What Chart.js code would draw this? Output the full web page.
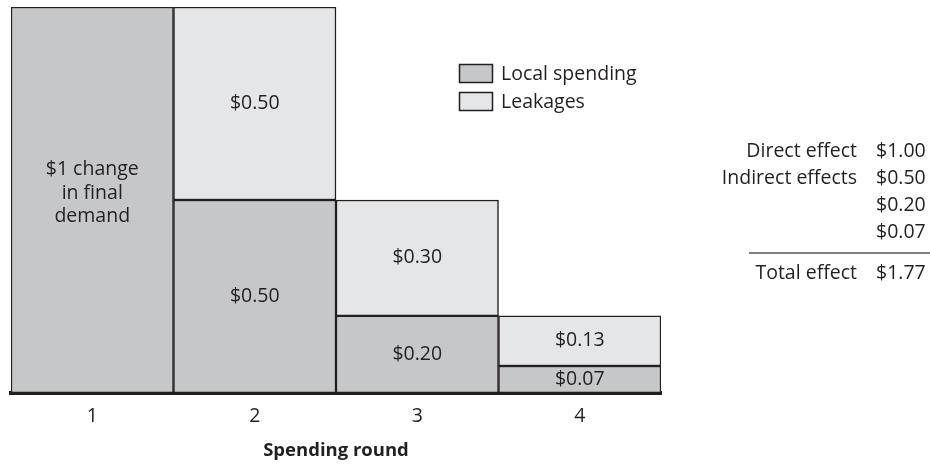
<!DOCTYPE html>
<html>
<head>
<meta charset="utf-8">
<script src="https://cdn.jsdelivr.net/npm/chart.js@4.4.1/dist/chart.umd.min.js"></script>
<style>
 html, body { margin: 0; padding: 0; background: #fff; }
 canvas { display: block; }
</style>
</head>
<body>
<canvas id="multiplier" width="930" height="464"></canvas>
<script>
// spending rounds and the two stacked parts of each round
var rounds = ['1', '2', '3', '4'];
var localSpending = [1.00, 0.50, 0.20, 0.07];
var leakages = [null, 0.50, 0.30, 0.13];

// text written inside the bars
var localLabels = [['$1 change', 'in final', 'demand'], ['$0.50'], ['$0.20'], ['$0.07']];
var leakLabels = [null, ['$0.50'], ['$0.30'], ['$0.13']];

// summary table on the right
var effectNames = ['Direct effect', 'Indirect effects', '', ''];
var effectValues = ['$1.00', '$0.50', '$0.20', '$0.07'];
var totalName = 'Total effect';
var totalValue = '$1.77';

var FONT = '"Open Sans", "Noto Sans", sans-serif';
var INK = '#231f20';
var TEXT = '#231f20';
var SIZE = 19.5;

var barText = {
 id: 'barText',
 afterDatasetsDraw: function(chart) {
  var ctx = chart.ctx;
  var sets = [localLabels, leakLabels];
  ctx.save();
  ctx.font = SIZE + 'px ' + FONT;
  ctx.fillStyle = TEXT;
  ctx.textAlign = 'center';
  ctx.textBaseline = 'middle';
  sets.forEach(function(labels, di) {
   var meta = chart.getDatasetMeta(di);
   meta.data.forEach(function(bar, i) {
    var lines = labels[i];
    if (!lines) return;
    var p = bar.getProps(['x', 'y', 'base'], true);
    var cy = (p.y + p.base) / 2;
    var lh = 23.5;
    if (lines.length > 1) cy -= 7;
    var y0 = cy - (lines.length - 1) * lh / 2;
    lines.forEach(function(t, k) {
     ctx.fillText(t, p.x, y0 + k * lh);
    });
   });
  });
  ctx.restore();
 }
};

var sideLegend = {
 id: 'sideLegend',
 afterDraw: function(chart) {
  var ctx = chart.ctx;
  ctx.save();
  ctx.font = SIZE + 'px ' + FONT;
  ctx.textBaseline = 'middle';
  ctx.textAlign = 'left';
  chart.data.datasets.forEach(function(ds, i) {
   var y = 64 + i * 28;
   ctx.fillStyle = ds.backgroundColor;
   ctx.fillRect(459, y, 33, 18);
   ctx.strokeStyle = INK;
   ctx.lineWidth = 1.5;
   ctx.strokeRect(459.5, y + 0.5, 33, 18);
   ctx.fillStyle = TEXT;
   ctx.fillText(ds.label, 501, y + 10);
  });

  // effects table
  var rowY = [151, 178, 205, 232];
  effectNames.forEach(function(name, i) {
   ctx.textAlign = 'right';
   ctx.fillText(name, 857, rowY[i]);
   ctx.textAlign = 'left';
   ctx.fillText(effectValues[i], 876, rowY[i]);
  });
  ctx.strokeStyle = '#555';
  ctx.lineWidth = 1.5;
  ctx.beginPath();
  ctx.moveTo(749, 253);
  ctx.lineTo(930, 253);
  ctx.stroke();
  ctx.textAlign = 'right';
  ctx.fillText(totalName, 857, 273);
  ctx.textAlign = 'left';
  ctx.fillText(totalValue, 876, 273);
  ctx.restore();
 }
};

var config = {
 type: 'bar',
 data: {
  labels: rounds,
  datasets: [{
   label: 'Local spending',
   data: localSpending,
   backgroundColor: '#c6c7c9',
   borderColor: INK,
   borderWidth: 1.5,
   borderSkipped: false,
   barPercentage: 1,
   categoryPercentage: 1
  }, {
   label: 'Leakages',
   data: leakages,
   backgroundColor: '#e5e6e8',
   borderColor: INK,
   borderWidth: 1.5,
   borderSkipped: false,
   barPercentage: 1,
   categoryPercentage: 1
  }]
 },
 options: {
  responsive: false,
  animation: false,
  layout: { padding: { left: 11, right: 269, top: 7, bottom: 0 } },
  plugins: {
   legend: { display: false },
   tooltip: { enabled: false }
  },
  scales: {
   x: {
    stacked: true,
    grid: { display: false, drawTicks: false },
    border: { display: true, color: INK, width: 4 },
    ticks: { color: TEXT, padding: 12, font: { family: FONT, size: SIZE } },
    title: {
     display: true,
     text: 'Spending round',
     color: TEXT,
     padding: { top: 0, bottom: 2 },
     font: { family: FONT, size: 18.5, weight: 'bold' }
    },
    afterFit: function(scale) { scale.height = 71; }
   },
   y: {
    stacked: true,
    display: false,
    min: 0,
    max: 1
   }
  }
 },
 plugins: [barText, sideLegend]
};

window.onload = function() {
 var ctx = document.getElementById('multiplier').getContext('2d');
 window.myBar = new Chart(ctx, config);
};
</script>
</body>
</html>
